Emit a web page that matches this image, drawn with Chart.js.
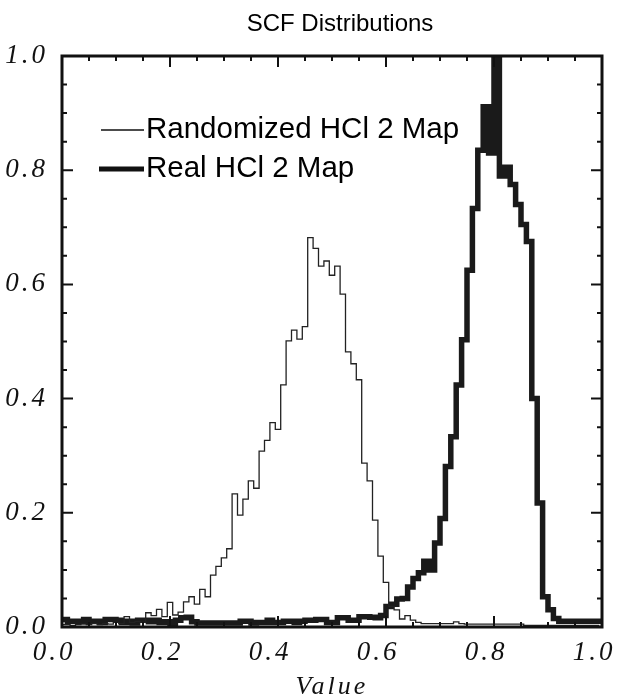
<!DOCTYPE html>
<html>
<head>
<meta charset="utf-8">
<script src="https://cdn.jsdelivr.net/npm/chart.js@4.4.1/dist/chart.umd.min.js"></script>
<style>
  html, body { margin: 0; padding: 0; background: #fff; }
  #wrap { width: 622px; height: 698px; }
</style>
</head>
<body>
<div id="wrap"><canvas id="scf" width="622" height="698"></canvas></div>
<script>
// SCF 분포 히스토그램 (bin 폭 0.01)
const binWidth = 0.01;
const randomBinStart = -0.005;   // randomized: bin 중심이 0.00, 0.01, ...
const realBinStart = 0.0;        // real: bin 왼쪽 끝이 0.00, 0.01, ...

// Randomized HCl 2 Map
const randomizedCounts = [
  0.004, 0.004, 0.003, 0.004, 0.005, 0.004, 0.006, 0.004, 0.006, 0.005,
  0.008, 0.006, 0.018, 0.008, 0.010, 0.008, 0.025, 0.020, 0.031, 0.018,
  0.043, 0.021, 0.026, 0.044, 0.053, 0.040, 0.066, 0.053, 0.091, 0.106,
  0.121, 0.137, 0.233, 0.196, 0.224, 0.256, 0.243, 0.308, 0.327, 0.358,
  0.346, 0.424, 0.501, 0.520, 0.504, 0.526, 0.682, 0.663, 0.632, 0.641,
  0.616, 0.632, 0.583, 0.482, 0.461, 0.433, 0.287, 0.256, 0.187, 0.124,
  0.078, 0.036, 0.030, 0.014, 0.020, 0.012, 0.008, 0.006, 0.006, 0.006,
  0.006, 0.006, 0.006, 0.009, 0.006, 0.005, 0.005, 0.005, 0.005, 0.005,
  0.005, 0.005, 0.005, 0.005, 0.005, 0.005, 0.003, 0.003, 0.003, 0.003,
  0.003, 0.003, 0.003, 0.003, 0.003, 0.003, 0.003, 0.003, 0.003, 0.003
];

// Real HCl 2 Map
const realCounts = [
  0.013, 0.010, 0.010, 0.010, 0.013, 0.010, 0.010, 0.008, 0.013, 0.013,
  0.012, 0.008, 0.010, 0.007, 0.012, 0.012, 0.009, 0.012, 0.008, 0.009,
  0.006, 0.012, 0.016, 0.017, 0.009, 0.007, 0.007, 0.007, 0.007, 0.007,
  0.007, 0.007, 0.007, 0.010, 0.010, 0.007, 0.008, 0.008, 0.012, 0.008,
  0.008, 0.010, 0.010, 0.008, 0.010, 0.012, 0.012, 0.013, 0.013, 0.008,
  0.008, 0.016, 0.016, 0.012, 0.012, 0.018, 0.018, 0.017, 0.016, 0.020,
  0.036, 0.040, 0.049, 0.050, 0.070, 0.085, 0.095, 0.115, 0.100, 0.147,
  0.190, 0.281, 0.333, 0.424, 0.503, 0.625, 0.733, 0.835, 0.911, 0.830,
  1.000, 0.790, 0.805, 0.775, 0.740, 0.705, 0.675, 0.400, 0.217, 0.053,
  0.030, 0.015, 0.010, 0.010, 0.010, 0.010, 0.010, 0.010, 0.010, 0.010
];

const majorTicks = [0.0, 0.2, 0.4, 0.6, 0.8, 1.0];
const minorTicks = [0.05, 0.1, 0.15, 0.25, 0.3, 0.35, 0.45, 0.5, 0.55,
                    0.65, 0.7, 0.75, 0.85, 0.9, 0.95];

const legendLabels = ['Randomized HCl 2 Map', 'Real HCl 2 Map'];

// 히스토그램 계단용 점 (마지막 bin 오른쪽 끝 포함)
function toSteps(counts, start) {
  const pts = counts.map((v, i) => ({ x: start + i * binWidth, y: v }));
  pts.push({ x: start + counts.length * binWidth, y: counts[counts.length - 1] });
  return pts;
}

const tickFont = { family: '"Liberation Serif", serif', style: 'italic', size: 27 };

// IDL 스타일 프레임, 안쪽 눈금, 제목, 범례
const idlPlot = {
  id: 'idlPlot',
  beforeDraw(chart) {
    chart.ctx.letterSpacing = '3px';
  },
  beforeDatasetsDraw(chart) {
    chart.ctx.letterSpacing = '0px';
  },
  afterDatasetsDraw(chart) {
    const ctx = chart.ctx;
    const a = chart.chartArea;
    const xs = chart.scales.x;
    const ys = chart.scales.y;
    ctx.save();
    ctx.strokeStyle = '#111';

    // 눈금
    ctx.lineWidth = 2;
    const drawTicks = (list, len) => {
      list.forEach(v => {
        const px = xs.getPixelForValue(v);
        const py = ys.getPixelForValue(v);
        ctx.beginPath();
        ctx.moveTo(px, a.bottom); ctx.lineTo(px, a.bottom - len);
        ctx.moveTo(px, a.top); ctx.lineTo(px, a.top + len);
        ctx.moveTo(a.left, py); ctx.lineTo(a.left + len, py);
        ctx.moveTo(a.right, py); ctx.lineTo(a.right - len, py);
        ctx.stroke();
      });
    };
    drawTicks(majorTicks, 11);
    drawTicks(minorTicks, 5);

    // 프레임
    ctx.lineWidth = 3;
    ctx.strokeRect(a.left, a.top, a.right - a.left, a.bottom - a.top);
    ctx.restore();
  },
  afterDraw(chart) {
    const ctx = chart.ctx;
    ctx.save();
    ctx.letterSpacing = '0px';
    ctx.fillStyle = '#000';
    ctx.textBaseline = 'middle';

    // 제목
    ctx.font = '24px "Liberation Sans", Arial, sans-serif';
    ctx.textAlign = 'center';
    ctx.fillText('SCF Distributions', 340, 24);

    // 범례
    ctx.font = '29.5px "Liberation Sans", Arial, sans-serif';
    ctx.textAlign = 'left';
    ctx.strokeStyle = '#111';
    ctx.lineWidth = 1.5;
    ctx.beginPath(); ctx.moveTo(101, 130); ctx.lineTo(144, 130); ctx.stroke();
    ctx.fillText(legendLabels[0], 146, 130);
    ctx.lineWidth = 5;
    ctx.beginPath(); ctx.moveTo(99, 169); ctx.lineTo(144, 169); ctx.stroke();
    ctx.fillText(legendLabels[1], 146, 169);
    ctx.restore();
  }
};

new Chart(document.getElementById('scf'), {
  type: 'line',
  data: {
    datasets: [
      {
        label: legendLabels[0],
        data: toSteps(randomizedCounts, randomBinStart),
        stepped: 'before',
        borderColor: '#222',
        borderWidth: 1.3,
        pointRadius: 0,
        fill: false
      },
      {
        label: legendLabels[1],
        data: toSteps(realCounts, realBinStart),
        stepped: 'before',
        borderColor: '#1a1a1a',
        borderWidth: 5.5,
        borderJoinStyle: 'miter',
        pointRadius: 0,
        fill: false
      }
    ]
  },
  options: {
    responsive: false,
    animation: false,
    devicePixelRatio: 1,
    layout: { padding: { top: 56, right: 20, bottom: 0, left: 0 } },
    plugins: {
      legend: { display: false },
      tooltip: { enabled: false },
      title: { display: false }
    },
    scales: {
      x: {
        type: 'linear',
        min: 0,
        max: 1,
        grid: { display: false, drawTicks: false },
        border: { display: false },
        ticks: {
          stepSize: 0.2,
          color: '#111',
          font: tickFont,
          padding: 10,
          labelOffset: -8,
          maxRotation: 0,
          callback: v => v.toFixed(1)
        },
        title: {
          display: true,
          text: 'Value',
          color: '#111',
          font: { family: '"Liberation Serif", serif', style: 'italic', size: 26, lineHeight: 0.8 },
          padding: { top: 0, bottom: 0 }
        },
        afterFit(scale) {
          scale.height = 71;
          scale.paddingLeft = 0;
          scale.paddingRight = 0;
        }
      },
      y: {
        min: 0,
        max: 1,
        grid: { display: false, drawTicks: false },
        border: { display: false },
        ticks: {
          stepSize: 0.2,
          color: '#111',
          font: tickFont,
          padding: 14,
          callback: v => v.toFixed(1)
        },
        afterFit(scale) {
          scale.width = 62;
          scale.paddingTop = 0;
          scale.paddingBottom = 0;
        }
      }
    }
  },
  plugins: [idlPlot]
});
</script>
</body>
</html>
